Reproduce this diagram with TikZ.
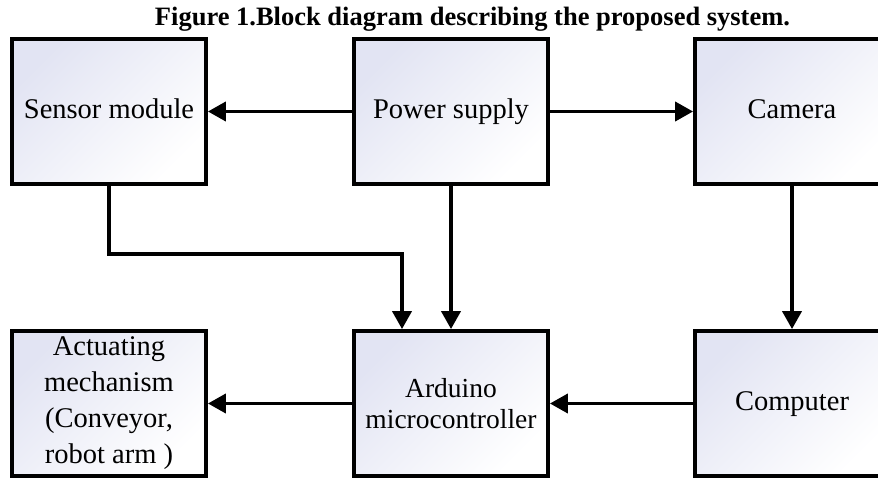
\documentclass[tikz,border=0pt]{standalone}
\usepackage{fontspec}
\setmainfont{Liberation Serif}
\usetikzlibrary{arrows.meta}
\definecolor{lav}{RGB}{226,228,243}
\begin{document}
\begin{tikzpicture}[x=1pt,y=-1pt,
  blk/.style={draw=black, line width=3.8pt, minimum width=194pt, minimum height=145pt,
    inner sep=0pt, align=center, top color=lav, bottom color=white, shading angle=45,
    font=\fontsize{28.5}{36}\selectfont},
  arr/.style={line width=3.8pt, -{Triangle[length=18pt,width=19pt]}}]
\useasboundingbox (0,0) rectangle (878,479);
\clip (0,0) rectangle (878,479);
\node[font=\bfseries\fontsize{26.5}{30}\selectfont, anchor=base] (title) at (472.5,25) {Figure 1.Block diagram describing the proposed system.};
\node[blk] (sensor) at (109,111.5) {\strut Sensor module};
\node[blk] (power) at (451,111.5) {\strut Power supply};
\node[blk] (cam) at (792,111.5) {\strut Camera};
\node[blk] (act) at (109,403.5) {Actuating\\mechanism\\(Conveyor,\\robot arm )};
\node[blk, font=\fontsize{27.5}{31}\selectfont] (ard) at (451,403.5) {Arduino\\microcontroller};
\node[blk] (comp) at (792,403.5) {\strut Computer};
\coordinate (bend) at (402,254);
\draw[arr] (power.west) -- (sensor.east);
\draw[arr] (power.east) -- (cam.west);
\draw[arr] (power.south) -- (ard.north);
\draw[arr] (cam.south) -- (comp.north);
\draw[arr] (comp.west) -- (ard.east);
\draw[arr] (ard.west) -- (act.east);
\draw[arr, line join=miter] (sensor.south) |- (bend) -- (bend |- ard.north);
\end{tikzpicture}
\end{document}
